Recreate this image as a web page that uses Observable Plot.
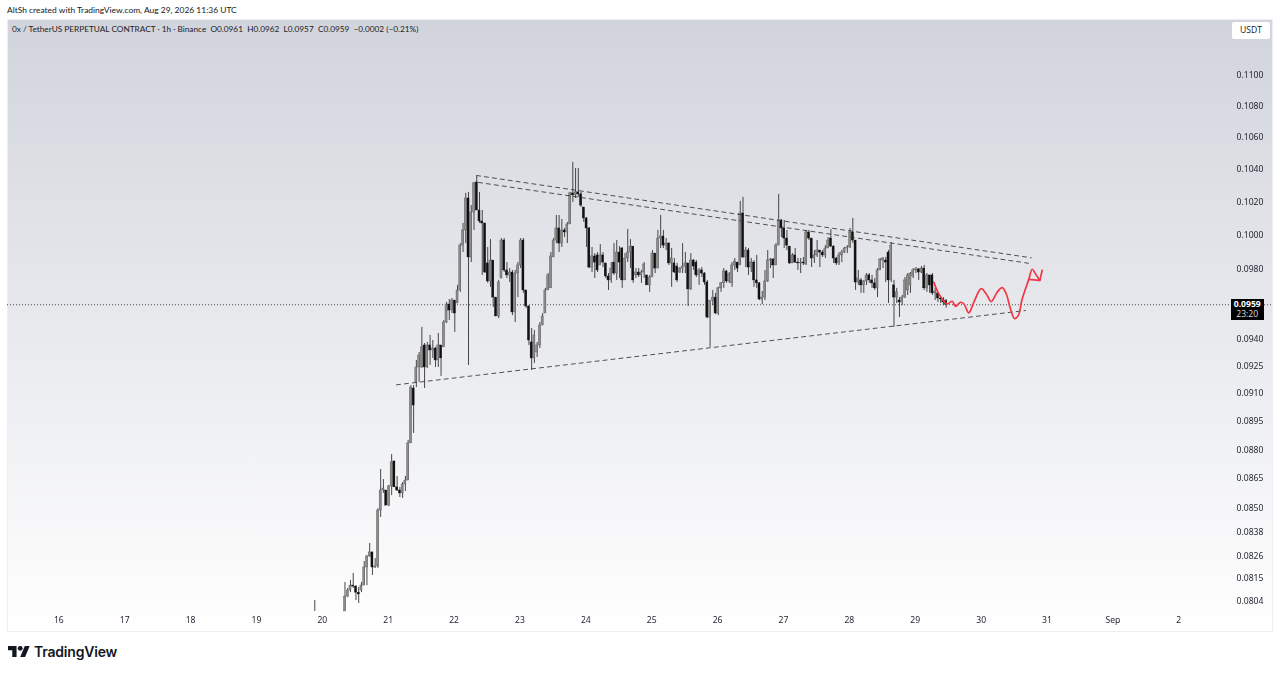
<!DOCTYPE html>
<html><head><meta charset="utf-8">
<script src="https://cdn.jsdelivr.net/npm/d3@7"></script>
<script src="https://cdn.jsdelivr.net/npm/@observablehq/plot@0.6"></script>
<style>
html,body{margin:0;padding:0;background:#fff;width:1280px;height:673px;overflow:hidden}
#wrap{position:relative;width:1280px;height:673px;font-family:"Open Sans",sans-serif;color:#131722}
#wrap svg.chart{position:absolute;left:0;top:0;filter:blur(.3px)}
.ov{position:absolute;white-space:pre;line-height:1}
</style></head><body>
<div id="wrap">
<div class="ov" style="left:7px;top:6px;font-size:8.45px;font-family:Lato,sans-serif;color:#131722">AltSh created with TradingView.com, Aug 29, 2026 11:36 UTC</div>
<div class="ov" style="left:12px;top:25px;font-size:8.25px;font-family:Lato,sans-serif;color:#222;z-index:2">0x / TetherUS PERPETUAL CONTRACT · 1h · Binance  O0.0961  H0.0962  L0.0957  C0.0959  −0.0002 (−0.21%)</div>
<div class="ov" style="left:1232px;top:22px;width:38px;height:17px;background:#fff;border-radius:2px;text-align:center;line-height:17px;font-size:8.6px;z-index:2">USDT</div>
<div class="ov" style="left:1230.5px;top:298.5px;width:33.5px;height:21.5px;background:#000;color:#fff;text-align:center;font-size:8.6px;z-index:2;line-height:10.5px"><b>0.0959</b><br><span style="color:#ddd">23:20</span></div>
<svg class="ov" style="left:8px;top:643px" width="22" height="18" viewBox="0 0 36 28" fill="#131722"><path d="M14 22H7V11H0V4h14v18zM28 22h-8l7.5-18h8L28 22z"/><circle cx="20" cy="8" r="4"/></svg>
<div class="ov" style="left:34px;top:645px;font-size:14px;font-weight:600;font-family:Inter,sans-serif;color:#131722;letter-spacing:-.2px">TradingView</div>
</div>
<script>
const firstDay = 19.875;
const opens = [.08016,null,null,null,null,null,null,null,null,null,null,
.07988,.08059,.08088,.08112,.08107,.08078,.08088,.08112,.08200,.08254,
.08274,.08200,.08205,.08483,.08585,.08585,.08508,.08606,.08735,.08601,
.08585,.08570,.08616,.08636,.08829,.09123,.09156,.09238,.09238,.09360,
.09238,.09360,.09332,.09343,.09277,.09360,.09349,.09489,.09591,.09557,
.09614,.09597,.09672,.09934,.10024,.10217,.09864,.10132,.10315,.10144,
.10078,.10066,.09829,.09724,.09846,.09631,.09523,.09741,.09964,.09788,
.09759,.09776,.09546,.09770,.09817,.09964,.09672,.09580,.09377,.09288,
.09321,.09360,.09472,.09540,.09672,.09684,.09864,.09964,.10036,.09946,
.10024,.10012,.10060,.10248,.10236,.10254,.10242,.10162,.10096,.10036,
.09805,.09870,.09876,.09817,.09876,.09829,.09753,.09730,.09834,.09770,
.09893,.09917,.09730,.09858,.09893,.09928,.09759,.09776,.09759,.09776,
.09759,.09701,.09747,.09887,.09799,.09976,.09988,.09934,.09946,.09829,
.09829,.09811,.09776,.09799,.09811,.09829,.09678,.09846,.09834,.09759,
.09788,.09770,.09718,.09517,.09614,.09631,.09540,.09684,.09713,.09782,
.09724,.09713,.09817,.09834,.09817,.10126,.09864,.09905,.09805,.09834,
.09730,.09713,.09620,.09631,.09724,.09846,.09852,.09817,.09934,.10084,
.10036,.09976,.09928,.09829,.09876,.09834,.09829,.09834,.09823,.10012,
.09976,.09858,.09876,.09905,.09893,.09876,.09917,.09976,.09928,.09858,
.09829,.09876,.09893,.09917,.09923,.10012,.09964,.09718,.09730,.09701,
.09724,.09759,.09730,.09713,.09684,.09788,.09846,.09846,.09893,.09730,
.09701,.09631,.09614,.09603,.09631,.09672,.09701,.09753,.09788,.09794,
.09776,.09799,.09684,.09759,.09759,.09655,.09655,.09626,.09620,.09610];
const highs = [.08040,null,null,null,null,null,null,null,null,null,null,
.08127,.08098,.08137,.08171,.08112,.08103,.08127,.08229,.08259,.08318,
.08274,.08244,.08493,.08693,.08641,.08585,.08611,.08771,.08735,.08657,
.08601,.08626,.08657,.08845,.09139,.09139,.09277,.09321,.09461,.09371,
.09377,.09416,.09388,.09349,.09427,.09360,.09500,.09603,.09620,.09626,
.09614,.09701,.09946,.10066,.10248,.10254,.10174,.10315,.10352,.10254,
.10144,.10066,.09923,.09970,.09846,.09631,.09730,.09976,.09976,.09834,
.09799,.09788,.09788,.09834,.09976,.09976,.09672,.09585,.09455,.09444,
.09377,.09489,.09540,.09684,.09770,.09893,.09976,.10114,.10114,.10090,
.10036,.10072,.10254,.10439,.10401,.10401,.10254,.10162,.10102,.10042,
.09923,.09887,.09893,.09940,.09893,.09829,.09770,.09834,.09946,.09964,
.09928,.09923,.09887,.10030,.09970,.09928,.09799,.09799,.09788,.09834,
.09759,.09759,.09905,.09887,.10024,.10114,.10024,.09976,.09952,.09917,
.09858,.09829,.09805,.09946,.09893,.09829,.09887,.09852,.09846,.09799,
.09805,.09776,.09730,.09614,.09672,.09655,.09690,.09718,.09799,.09788,
.09776,.09834,.09858,.09834,.10199,.10224,.09923,.09917,.09858,.09846,
.09876,.09718,.09666,.09788,.09905,.09858,.09858,.09946,.10242,.10090,
.10084,.10024,.09928,.09887,.09917,.09858,.09858,.09864,.10024,.10024,
.09976,.09905,.09964,.09905,.09905,.09934,.09982,.10030,.09934,.09864,
.09893,.09905,.09923,.09934,.10036,.10096,.09964,.09788,.09741,.09730,
.09770,.09770,.09759,.09741,.09799,.09858,.09864,.09864,.09905,.09952,
.09730,.09684,.09631,.09643,.09747,.09770,.09776,.09799,.09805,.09799,
.09811,.09817,.09770,.09759,.09770,.09684,.09655,.09637,.09631,.09620];
const lows = [.07988,null,null,null,null,null,null,null,null,null,null,
.07988,.08054,.08078,.08098,.08040,.08026,.08078,.08112,.08112,.08249,
.08161,.08195,.08195,.08448,.08570,.08508,.08503,.08559,.08601,.08580,
.08549,.08544,.08580,.08636,.08829,.08882,.09128,.09156,.09233,.09123,
.09233,.09249,.09288,.09238,.09238,.09189,.09349,.09483,.09500,.09540,
.09433,.09597,.09661,.09893,.09946,.09249,.09834,.10024,.10144,.10066,
.09759,.09770,.09713,.09690,.09574,.09523,.09511,.09741,.09776,.09741,
.09718,.09528,.09489,.09631,.09799,.09655,.09568,.09360,.09222,.09260,
.09293,.09343,.09472,.09540,.09672,.09684,.09864,.09946,.09893,.09923,
.09982,.09946,.10060,.10193,.10217,.10224,.10162,.10072,.09923,.09799,
.09776,.09741,.09776,.09817,.09805,.09741,.09672,.09713,.09759,.09730,
.09741,.09684,.09730,.09834,.09799,.09713,.09741,.09747,.09713,.09741,
.09701,.09661,.09747,.09770,.09799,.09917,.09917,.09905,.09817,.09690,
.09770,.09718,.09770,.09770,.09770,.09580,.09672,.09788,.09747,.09701,
.09747,.09701,.09511,.09349,.09585,.09534,.09528,.09661,.09684,.09713,
.09713,.09690,.09788,.09776,.09817,.09858,.09805,.09759,.09776,.09690,
.09684,.09614,.09591,.09614,.09718,.09799,.09741,.09817,.09934,.09982,
.09917,.09905,.09823,.09829,.09829,.09788,.09770,.09817,.09817,.09964,
.09805,.09829,.09864,.09805,.09864,.09858,.09917,.09923,.09829,.09817,
.09817,.09834,.09887,.09887,.09917,.09946,.09672,.09701,.09655,.09655,
.09701,.09713,.09684,.09672,.09631,.09788,.09799,.09718,.09597,.09718,
.09461,.09597,.09517,.09585,.09626,.09643,.09655,.09741,.09770,.09730,
.09770,.09672,.09661,.09655,.09643,.09614,.09603,.09597,.09585,.09570];
const closes = [.08016,null,null,null,null,null,null,null,null,null,null,
.08059,.08088,.08112,.08107,.08078,.08069,.08112,.08200,.08254,.08274,
.08200,.08205,.08483,.08585,.08595,.08508,.08606,.08730,.08601,.08585,
.08570,.08616,.08636,.08829,.09128,.09031,.09238,.09304,.09349,.09238,
.09360,.09332,.09343,.09277,.09360,.09288,.09489,.09591,.09557,.09614,
.09540,.09672,.09934,.10024,.10217,.09864,.10132,.10309,.10144,.10078,
.10066,.09776,.09724,.09846,.09631,.09523,.09718,.09964,.09788,.09759,
.09776,.09546,.09770,.09817,.09964,.09672,.09580,.09388,.09288,.09416,
.09360,.09472,.09523,.09672,.09759,.09870,.09964,.10036,.09946,.10024,
.10012,.10060,.10248,.10236,.10254,.10242,.10174,.10096,.10036,.09805,
.09870,.09834,.09788,.09876,.09834,.09753,.09730,.09799,.09770,.09893,
.09834,.09730,.09858,.09893,.09928,.09730,.09776,.09759,.09776,.09823,
.09701,.09747,.09887,.09799,.09976,.09988,.09934,.09946,.09829,.09858,
.09776,.09730,.09799,.09811,.09829,.09678,.09846,.09811,.09759,.09788,
.09770,.09718,.09517,.09614,.09631,.09540,.09684,.09713,.09782,.09724,
.09765,.09817,.09840,.09799,.10126,.09864,.09905,.09805,.09834,.09730,
.09713,.09620,.09631,.09724,.09846,.09852,.09817,.09934,.10084,.10036,
.09976,.09934,.09829,.09876,.09834,.09829,.09834,.09829,.10012,.09976,
.09858,.09876,.09905,.09893,.09876,.09917,.09964,.09928,.09858,.09829,
.09876,.09893,.09917,.09923,.10012,.09964,.09718,.09741,.09701,.09724,
.09759,.09730,.09713,.09684,.09788,.09852,.09858,.09834,.09730,.09934,
.09631,.09661,.09603,.09631,.09730,.09759,.09770,.09788,.09794,.09776,
.09799,.09684,.09759,.09701,.09655,.09666,.09626,.09620,.09603,.09590];

const lastPrice = .0959;
const yTicks = [.11,.108,.106,.104,.102,.1,.098,.094,.0925,.091,.0895,.088,.0865,.085,.0838,.0826,.0815,.0804];
const dayTicks = [16,17,18,19,20,21,22,23,24,25,26,27,28,29,30,31,32,33];
const dayLabels = ["16","17","18","19","20","21","22","23","24","25","26","27","28","29","30","31","Sep","2"];

const upper1Days = [22.33,30.75],  upper1Prices = [.10358,.09862];
const upper2Days = [22.36,30.708], upper2Prices = [.10315,.09830];
const lowerDays  = [21.115,30.663], lowerPrices = [.09143,.09557];

const redDays = [29.271,29.347,29.474,29.55,29.60,29.676,29.727,29.802,29.878,29.99,30.066,30.142,30.233,30.309,30.37,30.435,30.496,30.552,30.613,30.713,30.765,30.815,30.88];
const redPrices = [.09720,.09653,.09595,.09610,.09581,.09604,.09595,.09544,.09604,.09682,.09653,.09608,.09662,.09688,.09653,.09566,.09511,.09528,.09624,.09736,.09795,.09768,.09730];
const redTailDays = [30.713,30.88,30.916];
const redTailPrices = [.09736,.09730,.09788];

const pts = (xs,ys) => xs.map((x,i)=>({x,y:ys[i]}));
const candles = opens.map((o,i)=>({d:firstDay+i/24,o,h:highs[i],l:lows[i],c:closes[i]})).filter(k=>k.o!=null);
const up = candles.filter(k=>k.c>=k.o), down = candles.filter(k=>k.c<k.o);
const halfBar = 0.0155;
const dash = {stroke:"#333",strokeWidth:0.85,strokeDasharray:"4 4"};
const redLine = {x:"x",y:"y",stroke:"#f23645",strokeWidth:1.7,curve:"catmull-rom"};

const chart = Plot.plot({
  width:1280,height:673,
  marginLeft:7,marginRight:8,marginTop:19,marginBottom:42,
  style:{background:"transparent",overflow:"visible"},
  x:{type:"linear",domain:[15.2107,34.412]},
  y:{type:"log",domain:[.07893,.11367]},
  marks:[
    Plot.frame({fill:"url(#paneBg)",stroke:"#eceef2"}),
    Plot.axisX({ticks:dayTicks,tickFormat:d=>dayLabels[dayTicks.indexOf(d)],tickSize:0,tickPadding:-15,label:null,fontSize:8.6,fill:"#1e222d",dx:-0.7}),
    Plot.axisY({anchor:"right",ticks:yTicks,tickFormat:d3.format(".4f"),tickSize:0,tickPadding:-36,label:null,fontSize:8.6,fill:"#1e222d",dy:0.8}),
    Plot.ruleY([lastPrice],{stroke:"#222",strokeWidth:0.8,strokeDasharray:"1 2"}),
    Plot.ruleX(candles,{x:"d",y1:"l",y2:"h",stroke:"#333",strokeWidth:0.9}),
    Plot.rect(up,{x1:k=>k.d-halfBar,x2:k=>k.d+halfBar,y1:"o",y2:"c",fill:"#8c8c8c",stroke:"#555",strokeWidth:0.4}),
    Plot.rect(down,{x1:k=>k.d-halfBar,x2:k=>k.d+halfBar,y1:"o",y2:"c",fill:"#111",stroke:"#111",strokeWidth:0.4}),
    Plot.line(pts(upper1Days,upper1Prices),{x:"x",y:"y",...dash}),
    Plot.line(pts(upper2Days,upper2Prices),{x:"x",y:"y",...dash}),
    Plot.line(pts(lowerDays,lowerPrices),{x:"x",y:"y",...dash}),
    Plot.line(pts(redDays,redPrices),redLine),
    Plot.line(pts(redTailDays,redTailPrices),{...redLine,curve:"linear"})
  ]
});
chart.classList.add("chart");
const defs = d3.select(chart).insert("defs",":first-child");
const g = defs.append("linearGradient").attr("id","paneBg").attr("x1",0).attr("x2",0).attr("y1",0).attr("y2",1);
g.append("stop").attr("offset","0%").attr("stop-color","#d1d4dc");
g.append("stop").attr("offset","100%").attr("stop-color","#ffffff");
document.getElementById("wrap").prepend(chart);
</script>
</body></html>
